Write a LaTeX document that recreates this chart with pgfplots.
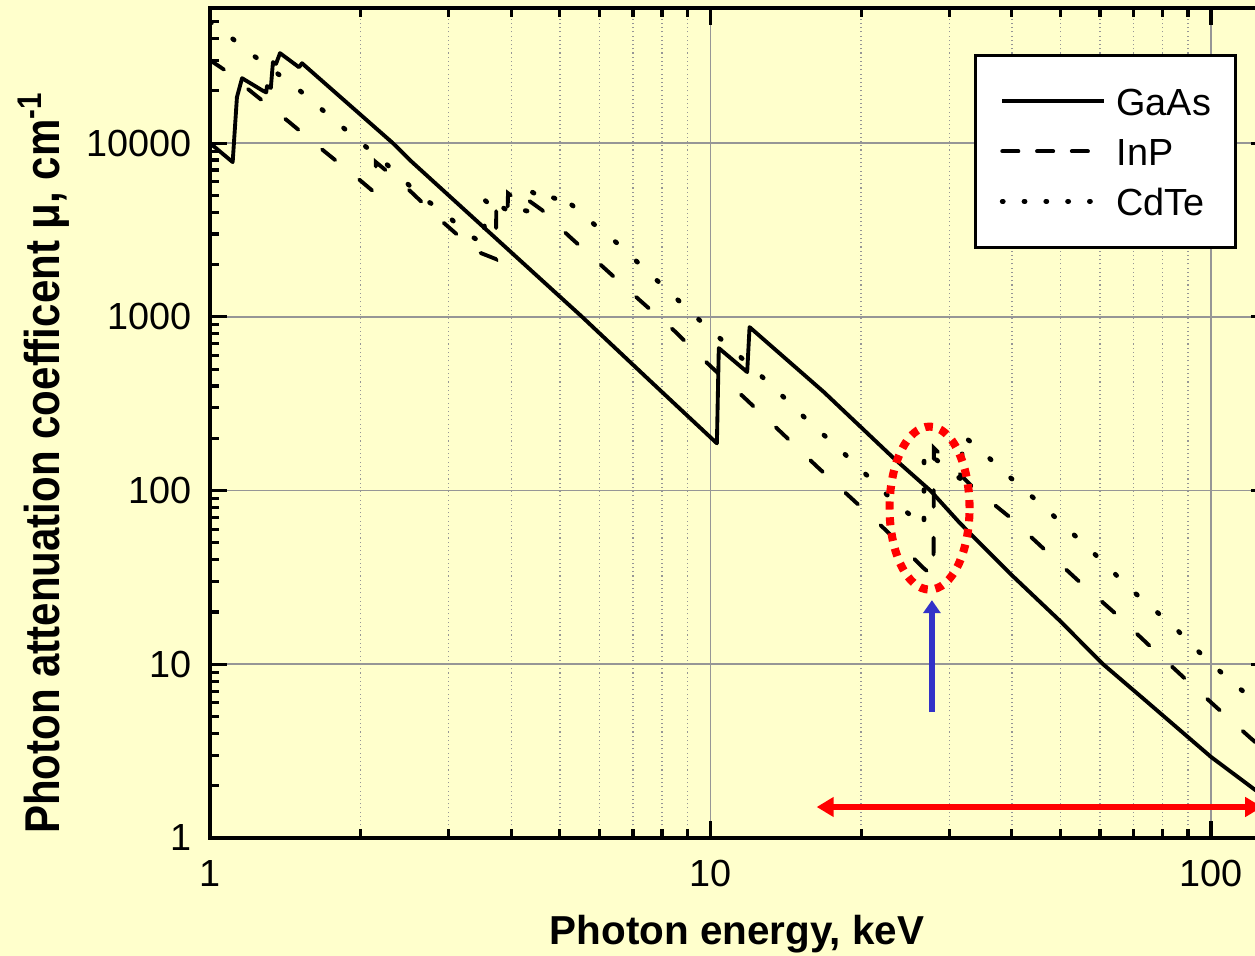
\documentclass[border=0pt]{standalone}
\usepackage{fontspec}
\setmainfont{Liberation Sans}
\usepackage{graphicx}
\usepackage{pgfplots}
\pgfplotsset{compat=1.18}
\usetikzlibrary{arrows.meta}

\definecolor{bgyellow}{RGB}{255,255,204}
\definecolor{gridgray}{RGB}{150,150,150}
\definecolor{arrowblue}{RGB}{50,50,200}

\begin{document}
\begin{tikzpicture}
\fill[bgyellow] (-2.10,-1.18) rectangle (10.45,8.38);
\begin{axis}[
  at={(0,0)}, anchor=south west,
  scale only axis, width=10.58cm, height=8.30cm,
  xmode=log, ymode=log,
  xmin=1, xmax=130, ymin=1, ymax=60000,
  axis line style={line width=1pt},
  tick align=inside,
  every tick/.style={black, line width=0.9pt},
  major tick length=0.17cm, minor tick length=0.09cm,
  xtick={1,10,100}, xticklabels={1,10,100},
  ytick={1,10,100,1000,10000}, yticklabels={1,10,100,1000,10000},
  minor xtick={2,3,4,5,6,7,8,9,20,30,40,50,60,70,80,90},
  minor ytick={2,3,4,5,6,7,8,9,20,30,40,50,60,70,80,90,200,300,400,500,600,700,800,900,
    2000,3000,4000,5000,6000,7000,8000,9000,20000,30000,40000,50000},
  xmajorgrids, ymajorgrids, xminorgrids,
  major grid style={gridgray, line width=0.5pt},
  minor grid style={gridgray, line width=0.4pt, dash pattern=on 0.3pt off 0.9pt},
  tick label style={font=\fontsize{10.75}{12}\selectfont},
  xticklabel style={anchor=base, yshift=-0.49cm},
  yticklabel style={anchor=east, inner sep=0pt, xshift=-0.18cm},
  xlabel={\bfseries Photon energy, keV},
  xlabel style={font=\fontsize{11.5}{13}\selectfont, at={(axis description cs:0.498,-0.1289)}, anchor=base},
  ylabel={\scalebox{0.86}[1]{\bfseries Photon attenuation coefficent μ, cm\textsuperscript{-1}}},
  ylabel style={font=\fontsize{13.9}{16}\selectfont, at={(axis description cs:-0.1418,0.452)}, anchor=base},
  legend style={at={(axis description cs:0.9707,0.9446)}, anchor=north east,
    draw=black, line width=0.8pt, fill=white,
    inner xsep=0.245cm, inner ysep=0.32cm, row sep=0.22cm,
    font=\fontsize{10.75}{12}\selectfont,
    nodes={inner sep=0pt, text height=0.28cm, text depth=0pt},
    /tikz/every odd column/.append style={column sep=0.1cm}},
  legend cell align=left,
  legend image code/.code={\draw[#1] (0cm,0cm) -- (1.02cm,0cm);},
]
% GaAs
\addplot[black, line width=1.1pt, line join=round] coordinates {
  (1.0,10000) (1.11,7780) (1.132,18400) (1.159,23660) (1.27,20180) (1.295,19600)
  (1.30,21300) (1.323,20800) (1.336,29250) (1.355,28600) (1.38,32970)
  (1.506,27360) (1.527,28850) (2.32,10000) (2.51,7980) (5.54,1000) (7.55,432)
  (10.3,187) (10.39,661) (11.84,481) (11.97,873) (16.85,369) (23.1,156)
  (27.5,100) (31.5,65) (39.6,33.5) (49.9,17.8) (60.9,10) (73.7,6.25) (100,2.93)
  (122.6,1.89) (125,1.82)
};
\addlegendentry{GaAs}
% InP
\addplot[black, line width=1.1pt, line cap=round, dash pattern=on 4.8pt off 8.8pt,
  legend image post style={dash pattern=on 4.6pt off 5.3pt}] coordinates {
  (1.0,30050) (1.071,26300) (1.219,19400) (1.432,13390) (1.681,9120) (1.994,6120)
  (2.14,5150) (2.145,7780) (2.465,5585) (2.89,3605) (3.4,2390) (3.73,2150)
  (3.732,4890) (3.935,4250) (3.94,5150) (4.235,4400) (4.24,4890) (4.61,4113)
  (5.19,2955) (7.22,1248) (8.48,828) (9.9,535) (11.77,336) (13.9,214) (16.3,138)
  (19.4,87) (22.5,58.5) (26.5,36.3) (27.9,32) (27.95,176) (33.4,104.8) (39.6,70.4)
  (46.6,45.5) (54.7,29.7) (64.3,19.7) (75.8,12.6) (89.0,8.2) (105.1,5.3)
  (120,3.76) (125,3.4)
};
\addlegendentry{InP}
% CdTe
\addplot[black, line width=1.35pt, line cap=round, dash pattern=on 0.5pt off 7.6pt,
  legend image post style={dash pattern=on 0.3pt off 5.9pt}] coordinates {
  (1.0,50000) (1.106,40200) (1.219,32100) (1.492,20730) (1.995,10140) (2.187,8200)
  (2.65,4890) (2.95,3955) (3.23,3075) (3.53,2620) (3.54,4700) (3.72,4150)
  (3.73,4500) (4.01,3950) (4.02,4250) (4.33,4050) (4.34,5360) (4.60,4850)
  (4.61,5200) (4.93,4750) (4.94,5150) (5.32,4340) (5.88,3375) (6.51,2656)
  (9.6,933) (10.6,725) (12.9,432) (14.2,332) (15.6,255) (17.3,195) (19.1,150)
  (21.0,115) (23.1,88.2) (26.7,62) (26.72,171) (31.8,115) (31.85,209) (35.0,167)
  (38.4,129.5) (42.2,102) (46.9,78.3) (51.5,60.8) (56.9,46.7) (62.3,36.3)
  (68.4,27.8) (75.8,21.4) (83.8,16.8) (92.0,12.7) (101,9.9) (111.6,7.6)
  (122.6,6.2) (125,5.9)
};
\addlegendentry{CdTe}
% annotations
\draw[red, line width=2.3pt, dash pattern=on 2.3pt off 2.2pt]
  (axis cs:27.4,79.3) ellipse [x radius=0.40cm, y radius=0.815cm];
\draw[arrowblue, line width=1.8pt, -{Triangle[length=0.13cm,width=0.17cm]}]
  (axis cs:27.7,5.31) -- (axis cs:27.7,23.4);
\draw[red, line width=1.7pt, {Triangle[length=0.17cm,width=0.19cm]}-{Triangle[length=0.17cm,width=0.19cm]}]
  (axis cs:16.3,1.508) -- (axis cs:126.6,1.508);
\end{axis}
\pgfresetboundingbox
\path[use as bounding box] (-2.10,-1.18) rectangle (10.45,8.38);
\end{tikzpicture}
\end{document}
